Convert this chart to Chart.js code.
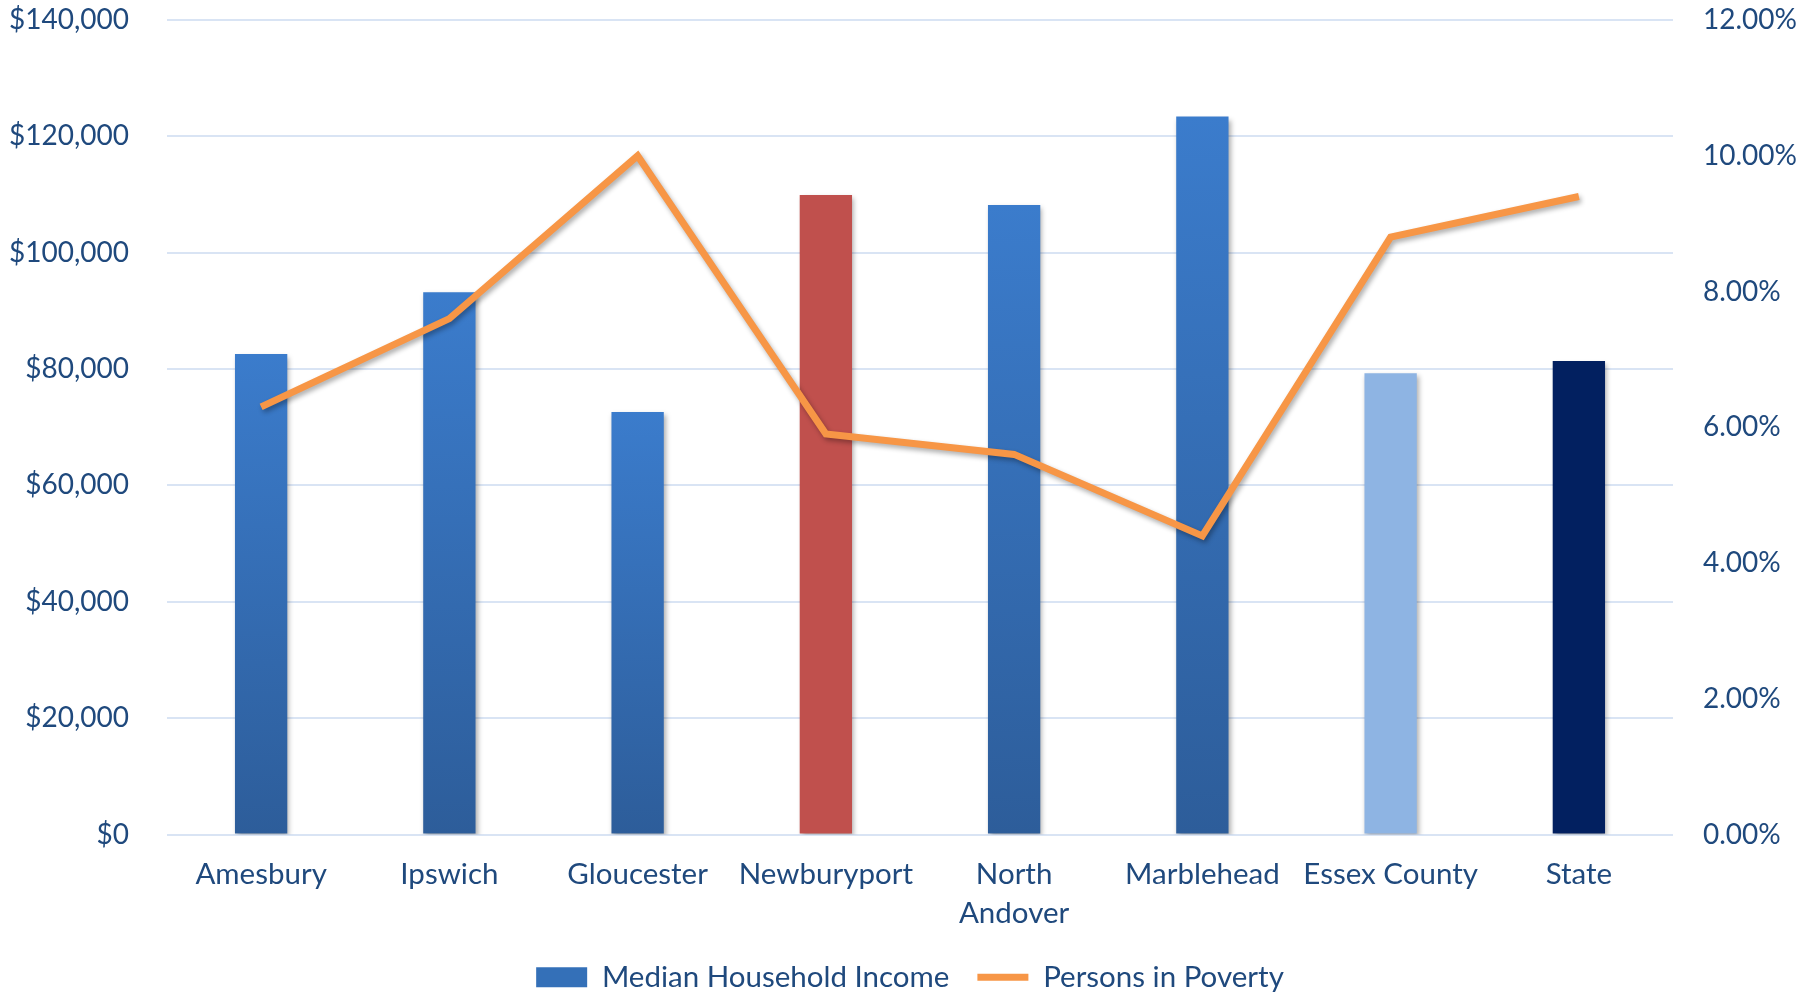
<!DOCTYPE html>
<html>
<head>
<meta charset="utf-8">
<title>Median Household Income and Persons in Poverty</title>
<script src="https://cdn.jsdelivr.net/npm/chart.js@4/dist/chart.umd.min.js"></script>
<style>
  html, body { margin: 0; padding: 0; background: #ffffff; }
  #wrap { width: 1820px; height: 992px; position: relative; }
</style>
</head>
<body>
<div id="wrap"><canvas id="chart" width="1820" height="992"></canvas></div>
<script>
// Communities compared
const categories = ['Amesbury', 'Ipswich', 'Gloucester', 'Newburyport', ['North', 'Andover'], 'Marblehead', 'Essex County', 'State'];
// Median household income, dollars
const medianIncome = [82600, 93200, 72600, 109900, 108200, 123400, 79300, 81400];
// Share of persons in poverty, percent
const povertyRate = [6.3, 7.6, 10.0, 5.9, 5.6, 4.4, 8.8, 9.4];
// Axis tick values
const incomeTicks = [0, 20000, 40000, 60000, 80000, 100000, 120000, 140000];
const povertyTicks = [0, 2, 4, 6, 8, 10, 12];

const TEXT = '#1F497D';
const FONT = 'Lato';
const LABEL_SIZE = 29.5;
const TICK_SIZE = 28;
const GRID = '#D9E4F4';
const BLUE_TOP = '#3B7CCC';
const BLUE_BOTTOM = '#2D5D9A';
const ORANGE = '#F79646';
// Fill per bar: null means the standard blue gradient
const barFills = [null, null, null, '#C0504D', null, null, '#8EB4E3', '#022060'];

function barFill(ctx) {
  const fixed = barFills[ctx.dataIndex];
  if (fixed) return fixed;
  const chart = ctx.chart;
  const y = chart.scales && chart.scales.y;
  if (!y || ctx.type !== 'data' || !chart.chartArea) return BLUE_TOP;
  const top = y.getPixelForValue(ctx.raw);
  const bottom = y.getPixelForValue(0);
  if (!isFinite(top) || !isFinite(bottom) || top === bottom) return BLUE_TOP;
  const g = chart.ctx.createLinearGradient(0, top, 0, bottom);
  g.addColorStop(0, BLUE_TOP);
  g.addColorStop(1, BLUE_BOTTOM);
  return g;
}

// Vertical axes: keep the plot edge fixed, labels may overhang
function fixVerticalAxis(width) {
  return function (scale) {
    scale.width = width;
    scale.paddingTop = 0;
    scale.paddingBottom = 0;
  };
}

// Soft drop shadow under the bars and the poverty line
const shadowPlugin = {
  id: 'dropShadow',
  beforeDatasetDraw(chart) {
    const c = chart.ctx;
    c.save();
    c.shadowColor = 'rgba(0,0,0,0.32)';
    c.shadowBlur = 5;
    c.shadowOffsetX = 2;
    c.shadowOffsetY = 3;
  },
  afterDatasetDraw(chart) {
    chart.ctx.restore();
  }
};

new Chart(document.getElementById('chart'), {
  type: 'bar',
  data: {
    labels: categories,
    datasets: [
      {
        type: 'bar',
        label: 'Median Household Income',
        data: medianIncome,
        yAxisID: 'y',
        backgroundColor: barFill,
        borderWidth: 0,
        categoryPercentage: 1,
        barPercentage: 0.278,
        order: 2
      },
      {
        type: 'line',
        label: 'Persons in Poverty',
        data: povertyRate,
        yAxisID: 'y2',
        borderColor: ORANGE,
        backgroundColor: ORANGE,
        borderWidth: 7,
        pointRadius: 0,
        pointHoverRadius: 0,
        tension: 0,
        fill: false,
        order: 1
      }
    ]
  },
  options: {
    responsive: false,
    animation: false,
    events: [],
    layout: { padding: { top: 20, left: 0, right: 0, bottom: -10 } },
    plugins: {
      tooltip: { enabled: false },
      legend: {
        position: 'bottom',
        labels: {
          font: { family: FONT, size: LABEL_SIZE },
          color: TEXT,
          usePointStyle: true,
          pointStyleWidth: 51,
          boxHeight: 20,
          padding: 28,
          generateLabels(chart) {
            return chart.data.datasets.map((ds, i) => ({
              text: ds.label,
              datasetIndex: i,
              fontColor: TEXT,
              fillStyle: ds.type === 'line' ? ORANGE : '#3470B8',
              strokeStyle: ds.type === 'line' ? ORANGE : '#3470B8',
              lineWidth: ds.type === 'line' ? 7 : 0,
              pointStyle: ds.type === 'line' ? 'line' : 'rect',
              hidden: false
            }));
          }
        }
      }
    },
    scales: {
      x: {
        offset: true,
        grid: { display: false },
        border: { display: false },
        ticks: {
          font: { family: FONT, size: LABEL_SIZE, lineHeight: 1.3 },
          color: TEXT,
          padding: 13,
          maxRotation: 0,
          autoSkip: false
        },
        afterFit(scale) { scale.height = 100; }
      },
      y: {
        position: 'left',
        min: 0,
        max: 140000,
        afterBuildTicks(scale) { scale.ticks = incomeTicks.map(v => ({ value: v })); },
        grid: { color: GRID, lineWidth: 2, drawTicks: false },
        border: { display: false },
        ticks: {
          font: { family: FONT, size: TICK_SIZE },
          color: TEXT,
          padding: 38,
          callback: v => '$' + Number(v).toLocaleString('en-US')
        },
        afterFit: fixVerticalAxis(167)
      },
      y2: {
        position: 'right',
        min: 0,
        max: 12,
        afterBuildTicks(scale) { scale.ticks = povertyTicks.map(v => ({ value: v })); },
        grid: { display: false, drawTicks: false },
        border: { display: false },
        ticks: {
          font: { family: FONT, size: TICK_SIZE },
          color: TEXT,
          padding: 30,
          callback: v => Number(v).toFixed(2) + '%'
        },
        afterFit: fixVerticalAxis(147)
      }
    }
  },
  plugins: [shadowPlugin]
});
</script>
</body>
</html>
